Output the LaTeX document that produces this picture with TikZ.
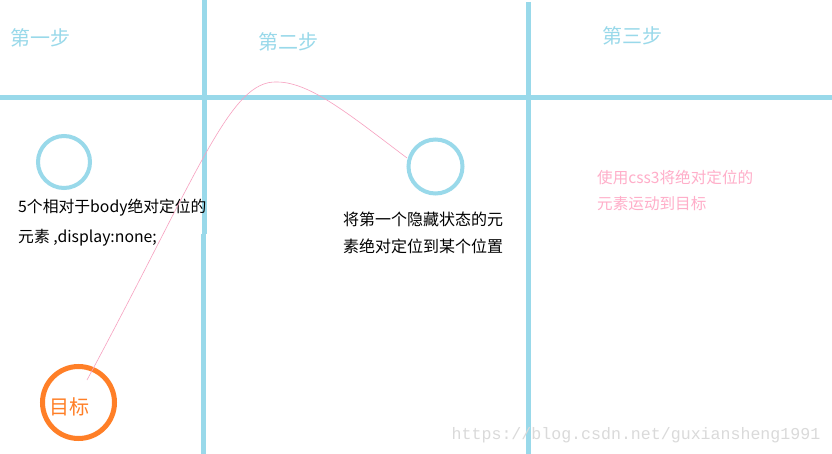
\documentclass[tikz,border=0pt]{standalone}
\usepackage{fontspec}
\newfontfamily\cjk{Noto Sans CJK SC}
\newfontfamily\wmfont{Liberation Mono}
\definecolor{paintblue}{HTML}{99D9EA}
\definecolor{paintorange}{HTML}{FF7F27}
\definecolor{painttext}{HTML}{FFAEC9}
\definecolor{curvepink}{HTML}{F7A1C0}
\definecolor{wmgray}{HTML}{DADADA}
\tikzset{
  gridline/.style={draw=paintblue, line width=5pt},
  steptitle/.style={text=paintblue, font={\cjk\fontsize{20}{24}\selectfont}, inner sep=0pt},
  ballc/.style={draw=paintblue, line width=4pt, circle, inner sep=0pt, outer sep=0pt},
  targetc/.style={draw=paintorange, line width=5pt, circle, inner sep=0pt, outer sep=0pt},
  desc/.style={align=left, inner sep=0pt},
  pathline/.style={draw=curvepink, line width=0.6pt},
}
\begin{document}
\begin{tikzpicture}[x=1pt,y=-1pt]
\useasboundingbox[fill=white] (0,0) rectangle (832,454);
% grid
\coordinate (hl) at (0,98);
\coordinate (hr) at (832,98);
\coordinate (v1t) at (204,0);
\coordinate (v1m) at (204,234);
\coordinate (v1n) at (203.4,234);
\coordinate (v1b) at (203.4,454);
\coordinate (v2t) at (528.5,2);
\coordinate (v2b) at (528.5,454);
\draw[gridline] (hl) -- (hr);
\draw[gridline] (v1t) -- (v1m);
\draw[gridline] (v1n) -- (v1b);
\draw[gridline] (v2t) -- (v2b);
% titles
\node[steptitle] (t1) at (40.5,37.5) {第一步};
\node[steptitle] (t2) at (288,41.5) {第二步};
\node[steptitle] (t3) at (632,35.5) {第三步};
% circles
\node[ballc, minimum size=52pt] (c1) at (64,162) {};
\node[ballc, minimum size=54pt] (c2) at (435.5,166.5) {};
\node[targetc, minimum size=72pt] (tg) at (78.5,402.5) {};
\node[text=paintorange, font={\cjk\fontsize{20}{24}\selectfont}, inner sep=0pt] (tgl) at (69,406.5) {目标};
% descriptions (anchor = baseline of last line)
\node[desc, anchor=base west, font={\cjk\fontsize{15.8}{30}\selectfont}] (d1) at (18,242.8) {5个相对于body绝对定位的\\元素 ,display:none;};
\node[desc, anchor=base west, font={\cjk\fontsize{16}{27}\selectfont}] (d2) at (343,252.8) {将第一个隐藏状态的元\\素绝对定位到某个位置};
\node[desc, anchor=base west, text=painttext, font={\cjk\fontsize{15.6}{26}\selectfont}] (d3) at (597,209.6) {使用css3将绝对定位的\\元素运动到目标};
% curve
\coordinate (cs) at (87,380);
\coordinate (cpk) at (277,82);
\coordinate (ce) at (407,158);
\draw[pathline] (cs) .. controls (200,170) and (230,80) .. (cpk) .. controls (310,82) and (350,115) .. (ce);
% watermark
\node[text=wmgray, font={\wmfont\fontsize{16.6}{18}\selectfont}, inner sep=0pt] (wm) at (636,435) {https://blog.csdn.net/guxiansheng1991};
\end{tikzpicture}
\end{document}
